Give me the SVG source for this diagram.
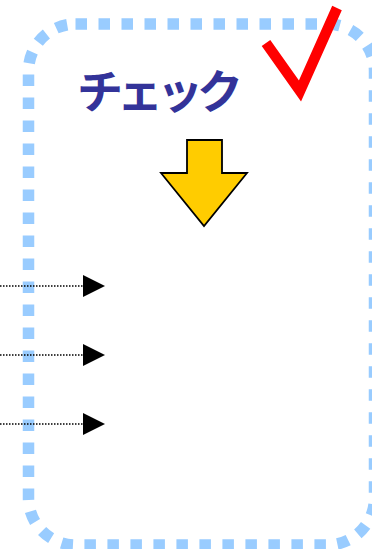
<svg xmlns="http://www.w3.org/2000/svg" width="372" height="549" viewBox="0 0 372 549">
<defs>
<style>
.frame{fill:none;stroke:#99CCFF;stroke-width:11.5;stroke-dasharray:11.5 11.5}
.conn{fill:none;stroke:#000;stroke-width:1.5;stroke-dasharray:1.5 1.5}
.head{fill:#000}
.title{font-family:"Noto Sans CJK JP","Noto Sans",sans-serif;font-weight:bold;font-size:46px;letter-spacing:-6px;fill:#333399}
</style>
</defs>
<g id="frame">
<rect class="frame" x="28.5" y="24" width="346" height="521" rx="47" ry="47"/>
</g>
<g id="title">
<text class="title" x="77" y="108">チェック</text>
</g>
<g id="check">
<polyline points="266,43 300,91 337,8" fill="none" stroke="#FF0000" stroke-width="10.5"/>
</g>
<g id="arrow">
<polygon points="187,140 222,140 222,173 247,173 204,226 161,173 187,173" fill="#FFCC00" stroke="#000" stroke-width="1.8" stroke-linejoin="miter"/>
</g>
<g id="connectors">
<line class="conn" x1="0" y1="286" x2="84" y2="286"/>
<polygon class="head" points="83,275 105,286 83,297"/>
<line class="conn" x1="0" y1="355" x2="84" y2="355"/>
<polygon class="head" points="83,344 105,355 83,366"/>
<line class="conn" x1="0" y1="424" x2="84" y2="424"/>
<polygon class="head" points="83,413 105,424 83,435"/>
</g>
</svg>
